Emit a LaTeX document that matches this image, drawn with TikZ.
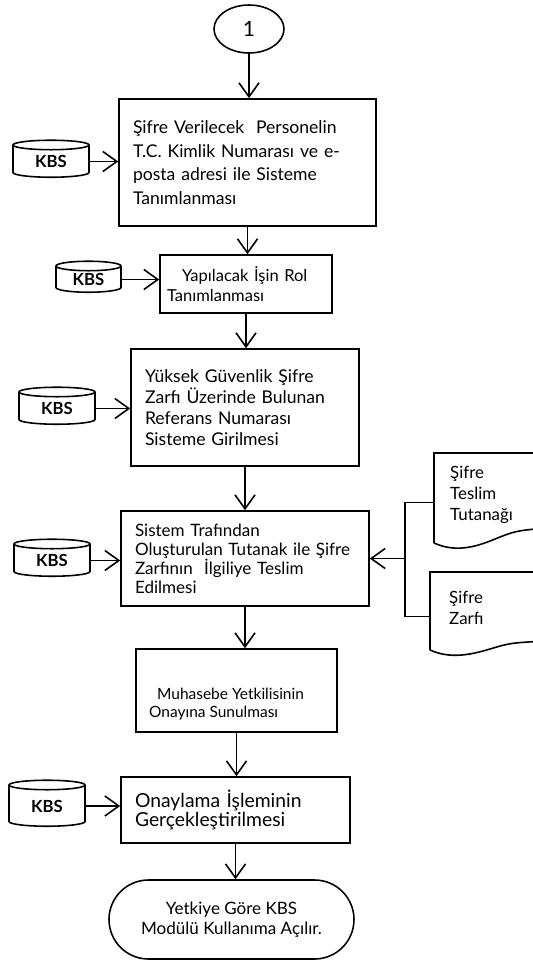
\documentclass[tikz,border=0pt]{standalone}
\usepackage{fontspec}
\setmainfont{Lato}
\usetikzlibrary{arrows.meta,shapes.geometric}
\tikzset{bx/.append style={draw, line width=0.9pt, rectangle, align=left, inner xsep=0.28cm, font=\fontsize{10}{12.5}\selectfont}}
\tikzset{kb/.append style={draw, line width=0.9pt, cylinder, shape border rotate=90, aspect=0.3, minimum width=1.52cm, minimum height=0.74cm, inner sep=0pt, font=\bfseries\fontsize{9.5}{11}\selectfont}}
\tikzset{ln/.append style={line width=0.9pt}}
\tikzset{ar/.append style={line width=0.9pt, -{Straight Barb[length=2.8mm,width=4mm]}}}

\begin{document}
\begin{tikzpicture}
                \useasboundingbox (0,0) rectangle (10.66,-19.22);
                % steps
                \node[ln, draw, ellipse, minimum width=1.4cm, minimum height=0.96cm, font=\large] (c1) at (4.98,-0.58) {1};
                \node[bx, text width=4.58cm, minimum height=2.54cm, font=\fontsize{10}{13.5}\selectfont] (s1) at (4.95,-3.25) {Şifre Verilecek\ \ Personelin\\T.C. Kimlik Numarası ve e-\\posta adresi ile Sisteme\\Tanımlanması};
                \node[bx, inner xsep=0.14cm, text width=3.16cm, minimum height=1.16cm, font=\fontsize{9.4}{11.5}\selectfont] (s2) at (4.92,-5.68) {\hspace*{0.3cm}Yapılacak İşin Rol\\Tanımlanması};
                \node[bx, text width=4.0cm, minimum height=2.34cm, font=\fontsize{10}{12}\selectfont] (s3) at (4.90,-8.15) {Yüksek Güvenlik Şifre\\Zarfı Üzerinde Bulunan\\Referans Numarası\\Sisteme Girilmesi};
                \node[bx, text width=4.4cm, minimum height=1.9cm, font=\fontsize{9.7}{10.8}\selectfont] (s4) at (4.90,-11.17) {Sistem Trafından\\Oluşturulan Tutanak ile Şifre\\Zarfının\ \ İlgiliye Teslim\\Edilmesi};
                \node[bx, minimum width=4.02cm, minimum height=1.66cm] (s5) at (4.73,-13.81) {};
                \node[align=left, anchor=west, font=\fontsize{8.8}{10.2}\selectfont] (s5t) at (2.86,-14.08) {\hspace*{0.16cm}Muhasebe Yetkilisinin\\Onayına Sunulması};
                \node[bx, text width=4.02cm, minimum height=1.32cm, font=\fontsize{11}{10.8}\selectfont] (s6) at (4.71,-16.20) {Onaylama İşleminin\\Gerçekleştirilmesi};
                \node[ln, draw, rounded corners=0.79cm, minimum width=4.9cm, minimum height=1.58cm, align=center, font=\fontsize{9.7}{11.4}\selectfont] (end) at (4.63,-18.39) {Yetkiye Göre KBS\\Modülü Kullanıma Açılır.};
                % KBS
                \node[kb] (k1) at (1.02,-3.23) {KBS};
                \node[kb, minimum width=1.3cm, minimum height=0.62cm] (k2) at (1.77,-5.59) {KBS};
                \node[kb] (k3) at (1.14,-8.17) {KBS};
                \node[kb] (k4) at (1.04,-11.21) {KBS};
                \node[kb, minimum height=0.92cm] (k5) at (0.94,-16.12) {KBS};
                % documents
                \draw[ln] (8.68,-10.86) -- (8.68,-9.06) -- (10.9,-9.06);
                \draw[ln] (8.68,-10.86) .. controls (9.1,-11.05) and (9.5,-10.95) .. (9.9,-10.78) .. controls (10.3,-10.62) .. (10.9,-10.56);
                \draw[ln] (8.60,-13.0) -- (8.60,-11.44) -- (10.9,-11.44);
                \draw[ln] (8.60,-13.0) .. controls (9.0,-13.18) and (9.4,-13.1) .. (9.8,-12.98) .. controls (10.2,-12.86) .. (10.9,-12.82);
                \node[align=left, anchor=west, font=\fontsize{9.6}{12}\selectfont] (d1) at (8.88,-9.9) {Şifre\\Teslim\\Tutanağı};
                \node[align=left, anchor=west, font=\fontsize{9.6}{12}\selectfont] (d2) at (8.86,-12.16) {Şifre\\Zarfı};
                \coordinate (p1) at (8.68,-10.05);
                \coordinate (p2) at (8.60,-12.33);
                \coordinate (jn) at (8.10,-11.17);
                % connectors
                \draw[ar] (c1.south) -- (c1.south |- s1.north);
                \draw[ar] (s1.south) -- (s1.south |- s2.north);
                \draw[ar] (s2.south) -- (s2.south |- s3.north);
                \draw[ar] (s3.south) -- (s3.south |- s4.north);
                \draw[ar] (s4.south) -- (s4.south |- s5.north);
                \draw[ar] (s5.south) -- (s5.south |- s6.north);
                \draw[ar] (s6.south) -- (s6.south |- end.north);
                \draw[ar] (k1.east) -- (k1.east -| s1.west);
                \draw[ar] (k2.east) -- (k2.east -| s2.west);
                \draw[ar] (k3.east) -- (k3.east -| s3.west);
                \draw[ar] (k4.east) -- (k4.east -| s4.west);
                \draw[ar] (k5.east) -- (k5.east -| s6.west);
                \draw[ln] (p1) -| (jn);
                \draw[ln] (p2) -| (jn);
                \draw[ar] (jn) -- (s4.east);
\end{tikzpicture}
\end{document}
